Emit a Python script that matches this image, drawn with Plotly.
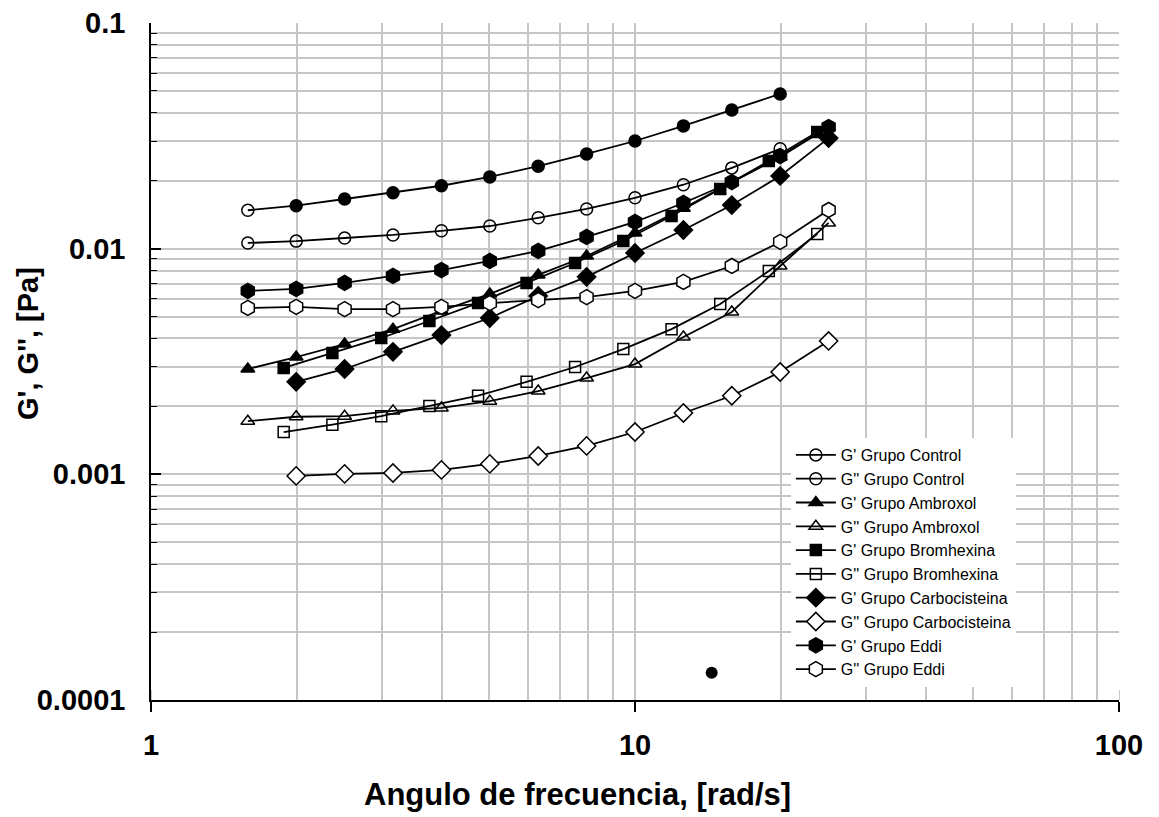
import plotly.graph_objects as go

# Angular frequency (rad/s) for each group
freq_std = [1.585, 1.995, 2.512, 3.162, 3.981, 5.012, 6.31, 7.943, 10.0, 12.59, 15.85, 19.95, 25.12]
freq_control = freq_std[:12]
freq_ambroxol = freq_std
freq_bromhexina = [1.88, 2.37, 2.99, 3.76, 4.74, 5.97, 7.52, 9.46, 11.9, 15.0, 18.9, 23.8]
freq_carbo = freq_std[1:]
freq_eddi = freq_std

# Storage (G') and loss (G'') moduli, Pa
gp_control = [0.0148, 0.0155, 0.0166, 0.0177, 0.0190, 0.0208, 0.0232, 0.0263, 0.0300, 0.0350, 0.0412, 0.0485]
gpp_control = [0.0106, 0.0108, 0.01115, 0.0115, 0.0120, 0.0126, 0.0137, 0.0150, 0.0168, 0.0192, 0.0228, 0.0277]

gp_ambroxol = [0.00293, 0.00331, 0.00378, 0.0044, 0.0053, 0.0063, 0.00765, 0.00928, 0.01174, 0.0151, 0.0197, 0.0255, 0.0346]
gpp_ambroxol = [0.00172, 0.00180, 0.00181, 0.00191, 0.00197, 0.00211, 0.00234, 0.00267, 0.00308, 0.00406, 0.00524, 0.00838, 0.0130]

gp_bromhexina = [0.00296, 0.00345, 0.00402, 0.00478, 0.00574, 0.00705, 0.00864, 0.01082, 0.01396, 0.01838, 0.02446, 0.0329]
gpp_bromhexina = [0.00154, 0.00166, 0.00181, 0.00201, 0.00223, 0.00257, 0.00299, 0.00359, 0.0044, 0.00569, 0.00796, 0.01162]

gp_carbo = [0.00257, 0.00293, 0.00349, 0.00414, 0.00493, 0.00617, 0.0075, 0.00957, 0.0121, 0.0156, 0.0210, 0.0309]
gpp_carbo = [0.000984, 0.001004, 0.001014, 0.001046, 0.001112, 0.001206, 0.001336, 0.00154, 0.00187, 0.00223, 0.00284, 0.0039]

gp_eddi = [0.0065, 0.00663, 0.00705, 0.00757, 0.00804, 0.00882, 0.00977, 0.01127, 0.01313, 0.01594, 0.01974, 0.02573, 0.0346]
gpp_eddi = [0.00546, 0.00552, 0.0054, 0.0054, 0.00552, 0.00574, 0.00592, 0.0061, 0.0065, 0.00712, 0.00838, 0.01071, 0.01484]

# Isolated reading
stray_freq = [14.4]
stray_mod = [0.000132]

# Decade tick labels
x_tickvals = [1, 10, 100]
x_ticklabels = ["1", "10", "100"]
y_tickvals = [0.0001, 0.001, 0.01, 0.1]
y_ticklabels = ["0.0001", "0.001", "0.01", "0.1"]

FONT = "Liberation Sans"
BLACK = "black"

series = [
    ("G' Grupo Control", freq_control, gp_control, ["circle-open"] + ["circle"] * 11, BLACK, 12),
    ("G'' Grupo Control", freq_control, gpp_control, "circle-open", BLACK, 12),
    ("G' Grupo Ambroxol", freq_ambroxol, gp_ambroxol, "triangle-up", BLACK, 12),
    ("G'' Grupo Ambroxol", freq_ambroxol, gpp_ambroxol, "triangle-up-open", BLACK, 12),
    ("G' Grupo Bromhexina", freq_bromhexina, gp_bromhexina, "square", BLACK, 11),
    ("G'' Grupo Bromhexina", freq_bromhexina, gpp_bromhexina, "square-open", BLACK, 11),
    ("G' Grupo Carbocisteina", freq_carbo, gp_carbo, "diamond", BLACK, 14),
    ("G'' Grupo Carbocisteina", freq_carbo, gpp_carbo, "diamond", "white", 14),
    ("G' Grupo Eddi", freq_eddi, gp_eddi, "hexagon", BLACK, 15),
    ("G'' Grupo Eddi", freq_eddi, gpp_eddi, "hexagon", "white", 15),
]

fig = go.Figure()
for name, x, y, sym, fill, size in series:
    fig.add_trace(go.Scatter(
        x=x, y=y, name=name, mode="lines+markers",
        line=dict(color=BLACK, width=1.8),
        marker=dict(symbol=sym, size=size, color=fill,
                    line=dict(color=BLACK, width=1.5)),
    ))

fig.add_trace(go.Scatter(
    x=stray_freq, y=stray_mod, mode="markers", showlegend=False,
    marker=dict(symbol="circle", size=12, color=BLACK),
))

grid = "#c6c6c6"
tick_font = dict(family=FONT, size=29, color=BLACK)
bold = lambda labels: ["<b>%s</b>" % t for t in labels]

fig.update_layout(
    width=1159, height=817,
    margin=dict(l=151, r=40, t=23, b=117, autoexpand=False),
    paper_bgcolor="white", plot_bgcolor="white",
    font=dict(family=FONT, color=BLACK),
    showlegend=True,
    legend=dict(
        x=0.661, y=0.387, xanchor="left", yanchor="top",
        bgcolor="white", borderwidth=0,
        font=dict(family=FONT, size=16, color=BLACK),
        tracegroupgap=0, itemwidth=40,
    ),
    xaxis=dict(
        type="log", range=[0, 2],
        tickmode="array", tickvals=x_tickvals, ticktext=bold(x_ticklabels),
        showline=True, linecolor=BLACK, linewidth=1.5, mirror=False,
        ticks="outside", ticklen=10, tickwidth=1.5, tickcolor=BLACK,
        ticklabelstandoff=8,
        tickfont=tick_font,
        showgrid=True, gridcolor=grid, gridwidth=1.5,
        minor=dict(tickmode="linear", dtick="D1", showgrid=True, gridcolor=grid, gridwidth=1.5,
                   ticks="inside", ticklen=10, tickwidth=1.2, tickcolor=grid),
        zeroline=False,
    ),
    yaxis=dict(
        type="log", range=[-4, -1],
        tickmode="array", tickvals=y_tickvals, ticktext=bold(y_ticklabels),
        showline=True, linecolor=BLACK, linewidth=1.5, mirror=False,
        ticks="inside", ticklen=10, tickwidth=1.5, tickcolor=BLACK,
        ticklabelstandoff=18,
        tickfont=tick_font,
        showgrid=True, gridcolor=grid, gridwidth=1.5,
        minor=dict(tickmode="linear", dtick="D1", showgrid=True, gridcolor=grid, gridwidth=1.5,
                   ticks="inside", ticklen=6, tickwidth=1.2, tickcolor=BLACK),
        zeroline=False,
    ),
    annotations=[
        dict(
            text="<b>G', G'', [Pa]</b>", textangle=-90,
            xref="paper", yref="paper", x=-0.127, y=0.526,
            xanchor="center", yanchor="middle", showarrow=False,
            font=dict(family=FONT, size=29, color=BLACK),
        ),
        dict(
            text="<b>Angulo de frecuencia, [rad/s]</b>",
            xref="paper", yref="paper", x=0.441, y=-0.14,
            xanchor="center", yanchor="middle", showarrow=False,
            font=dict(family=FONT, size=31, color=BLACK),
        ),
    ],
)

fig.write_html("out.html")
